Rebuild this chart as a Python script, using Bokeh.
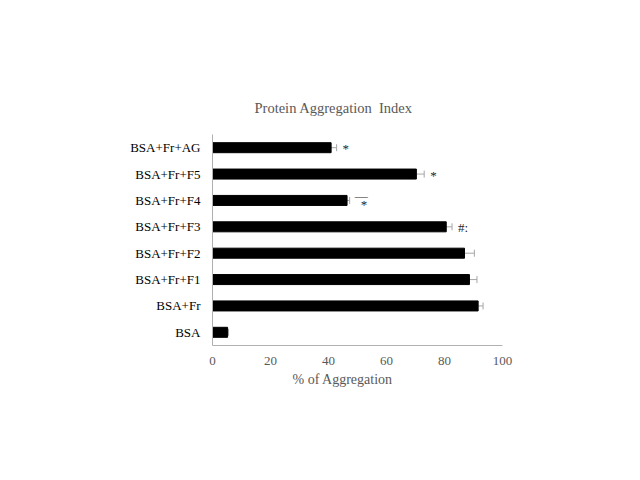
from bokeh.plotting import figure
from bokeh.models import FactorRange, Whisker, ColumnDataSource, Title, Range1d, TeeHead, FixedTicker
from bokeh.embed import file_html
from bokeh.resources import INLINE
from bokeh.core.properties import value

categories = ["BSA", "BSA+Fr", "BSA+Fr+F1", "BSA+Fr+F2", "BSA+Fr+F3",
              "BSA+Fr+F4", "BSA+Fr+F5", "BSA+Fr+AG"]
aggregation = [5.2, 91.6, 88.6, 86.9, 80.6, 46.4, 70.3, 40.9]
errors = [0.3, 1.7, 2.6, 3.4, 2.0, 0.9, 2.7, 1.9]
marks_main = ["", "", "", "", "#:", "", "*", "*"]
marks_over = ["", "", "", "", "", "\u2014", "", ""]
marks_under = ["", "", "", "", "", "*", "", ""]
x_ticks = [0, 20, 40, 60, 80, 100]

FONT = "Liberation Serif"
GRAY_TXT = "#595959"
AXIS_GRAY = "#b0b0b0"

src = ColumnDataSource(dict(
    cat=categories,
    val=aggregation,
    lower=[v - e for v, e in zip(aggregation, errors)],
    upper=[v + e for v, e in zip(aggregation, errors)],
    mark=marks_main,
    mark_over=marks_over,
    mark_under=marks_under,
))

p = figure(width=624, height=464, output_backend="svg", toolbar_location=None,
           x_range=Range1d(0, 100), y_range=FactorRange(factors=categories),
           min_border_left=212, min_border_right=122, min_border_top=134,
           min_border_bottom=119)

p.title.text = "Protein Aggregation\u00a0 Index"
p.title.align = "left"
p.title.offset = 42
p.title.text_font = FONT
p.title.text_font_size = "14.5px"
p.title.text_font_style = "normal"
p.title.text_color = GRAY_TXT
p.title.standoff = 37

p.hbar(y="cat", left=0, right="val", height=0.38, source=src,
       fill_color="black", line_color="black")

w = Whisker(base="cat", lower="lower", upper="upper", dimension="width", source=src,
            line_color="#a6a6a6", line_width=1,
            upper_head=TeeHead(size=7, line_color="#a6a6a6", line_width=1),
            lower_head=TeeHead(size=7, line_color="#a6a6a6", line_width=1))
p.add_layout(w)

common = dict(source=src, text_font=value(FONT), text_font_size="13px",
              text_baseline="middle", text_align="left", text_color="#262626")
p.text(x="upper", y="cat", text="mark", x_offset=6, y_offset=1, **common)
p.text(x="upper", y="cat", text="mark_over", x_offset=5, y_offset=-5, **common)
p.text(x="upper", y="cat", text="mark_under", x_offset=11, y_offset=4, **common)

p.xgrid.visible = False
p.ygrid.visible = False
p.outline_line_color = None

xa = p.xaxis[0]
xa.ticker = FixedTicker(ticks=x_ticks)
xa.major_tick_line_color = None
xa.minor_tick_line_color = None
xa.axis_line_color = AXIS_GRAY
xa.major_label_text_font = FONT
xa.major_label_text_font_size = "13px"
xa.major_label_text_color = GRAY_TXT
xa.major_label_standoff = 5

ya = p.yaxis[0]
ya.major_tick_line_color = None
ya.minor_tick_line_color = None
ya.axis_line_color = AXIS_GRAY
ya.major_label_text_font = FONT
ya.major_label_text_font_size = "13px"
ya.major_label_text_color = "black"
ya.major_label_standoff = 6

xt = Title(text="% of Aggregation", align="left", offset=80, text_font=FONT,
           text_font_size="14px", text_font_style="normal", text_color=GRAY_TXT,
           standoff=4)
p.add_layout(xt, "below")

open("out.html", "w").write(file_html(p, INLINE))
